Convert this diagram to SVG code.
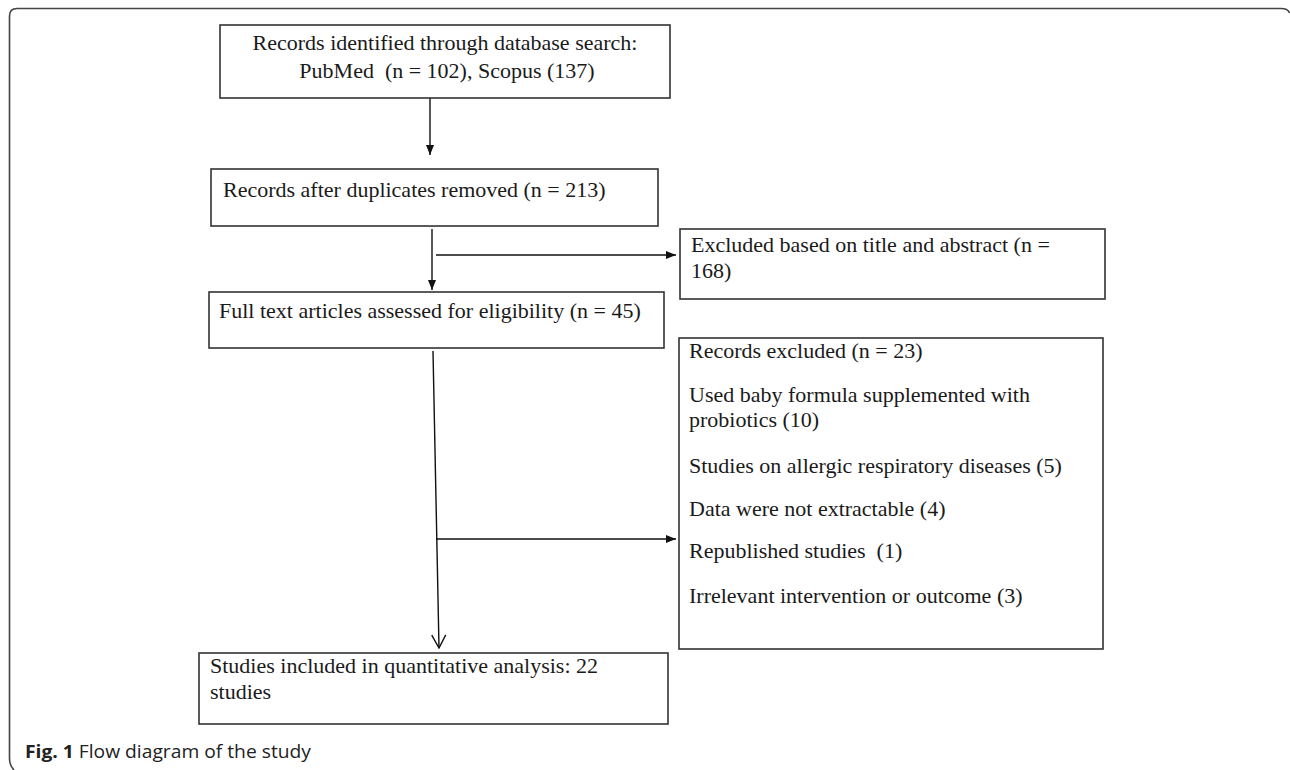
<svg xmlns="http://www.w3.org/2000/svg" width="1290" height="770" viewBox="0 0 1290 770">
<style>
.box{fill:#fff;stroke:#333;stroke-width:1.6}
.t{font-family:"Liberation Serif","Times New Roman",serif;font-size:22px;fill:#1a1a1a;white-space:pre}
.c{fill:none;stroke:#111;stroke-width:1.4}
.cap{font-family:"Open Sans","Noto Sans",sans-serif;font-size:18.5px;fill:#222}
</style>
<defs>
<marker id="ah" viewBox="0 0 10 8" refX="10" refY="4" markerUnits="userSpaceOnUse" markerWidth="10" markerHeight="8" orient="auto"><path d="M0,0 L10,4 L0,8 z" fill="#111"/></marker>
<marker id="ao" viewBox="0 0 15 16" refX="14" refY="8" markerUnits="userSpaceOnUse" markerWidth="15" markerHeight="16" orient="auto"><path d="M1,1 L14,8 L1,15" fill="none" stroke="#111" stroke-width="1.4"/></marker>
</defs>
<rect width="1290" height="770" fill="#fff"/>
<path d="M14,770 Q9.5,766 9.5,758 V16 Q9.5,8.5 17,8.5 H1281 Q1288,8.5 1289.5,13" fill="none" stroke="#444" stroke-width="1.6"/>

<g id="connectors">
<line class="c" x1="430" y1="98" x2="430" y2="155" marker-end="url(#ah)"/>
<line class="c" x1="432" y1="229" x2="432" y2="290" marker-end="url(#ah)"/>
<line class="c" x1="436" y1="255" x2="676" y2="255" marker-end="url(#ah)"/>
<line class="c" x1="433" y1="351" x2="439" y2="648" marker-end="url(#ao)"/>
<line class="c" x1="436" y1="539" x2="676" y2="539" marker-end="url(#ah)"/>
</g>

<g id="n1">
<rect class="box" x="220" y="25" width="450" height="73"/>
<text class="t" x="445" y="50" text-anchor="middle">Records identified through database search:</text>
<text class="t" x="447" y="78" text-anchor="middle">PubMed  (n = 102), Scopus (137)</text>
</g>

<g id="n2">
<rect class="box" x="211" y="169" width="447" height="57"/>
<text class="t" x="223" y="197">Records after duplicates removed (n = 213)</text>
</g>

<g id="n3">
<rect class="box" x="680" y="229" width="425" height="70"/>
<text class="t" x="691" y="252">Excluded based on title and abstract (n =</text>
<text class="t" x="691" y="278">168)</text>
</g>

<g id="n4">
<rect class="box" x="209" y="292" width="455" height="56"/>
<text class="t" x="219" y="318">Full text articles assessed for eligibility (n = 45)</text>
</g>

<g id="n5">
<rect class="box" x="679" y="338" width="424" height="311"/>
<text class="t" x="689" y="358">Records excluded (n = 23)</text>
<text class="t" x="689" y="402">Used baby formula supplemented with</text>
<text class="t" x="689" y="427">probiotics (10)</text>
<text class="t" x="689" y="473">Studies on allergic respiratory diseases (5)</text>
<text class="t" x="689" y="516">Data were not extractable (4)</text>
<text class="t" x="689" y="558">Republished studies  (1)</text>
<text class="t" x="689" y="603">Irrelevant intervention or outcome (3)</text>
</g>

<g id="n6">
<rect class="box" x="199" y="653" width="469" height="71"/>
<text class="t" x="210" y="673">Studies included in quantitative analysis: 22</text>
<text class="t" x="210" y="699">studies</text>
</g>

<text class="cap" x="25" y="758" textLength="286" lengthAdjust="spacingAndGlyphs"><tspan font-weight="bold">Fig. 1</tspan> Flow diagram of the study</text>
</svg>
